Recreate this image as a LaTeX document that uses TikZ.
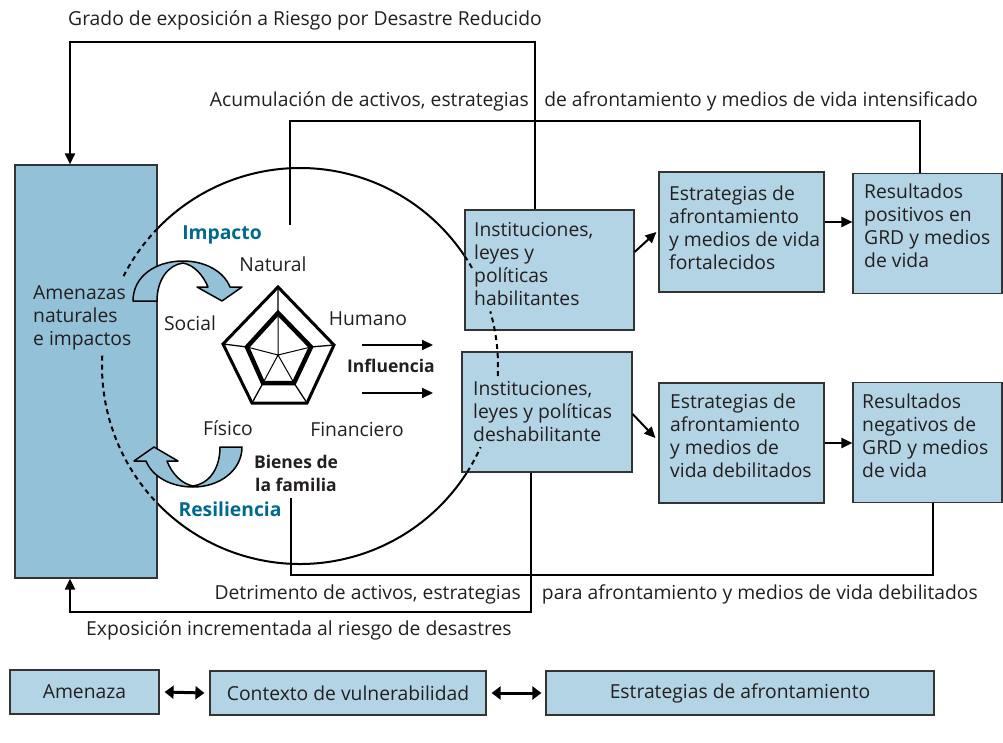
\documentclass[tikz,border=0pt]{standalone}
\usepackage{fontspec}
\setmainfont{Open Sans}
\usetikzlibrary{arrows.meta,calc}
\definecolor{boxc}{HTML}{B3D4E4}
\definecolor{darkbox}{HTML}{93C1D8}
\definecolor{txt}{HTML}{231F20}
\definecolor{blu}{HTML}{00698F}
\begin{document}
\begin{tikzpicture}[x=1pt,y=-1pt,
  font=\fontsize{19.3}{23}\selectfont, text=txt,
  boxn/.style={draw=black!80, line width=1.2pt, fill=boxc, inner sep=0pt, minimum height=120pt},
  boxt/.style={inner sep=0pt, align=left, anchor=north west},
  conn/.style={line width=2pt, draw=black},
  arr/.style={conn, -{Triangle[length=11pt,width=10pt]}},
  dbl/.style={line width=3pt, draw=black, {Triangle[length=9pt,width=13pt]}-{Triangle[length=9pt,width=13pt]}},
  dsh/.style={line width=2pt, draw=black, dash pattern=on 5pt off 4pt},
  lbl/.style={inner sep=0pt},
  blab/.style={inner sep=0pt, font=\fontsize{19.3}{23}\selectfont\bfseries, text=blu},
  kbold/.style={inner sep=0pt, font=\fontsize{17.5}{23}\selectfont\bfseries},
  bottombox/.style={draw=black!80, line width=1.2pt, fill=boxc, minimum height=44pt, inner sep=0pt},
  curlarrow/.style={draw=black, line width=1.5pt, fill=darkbox, line join=round},
]
\useasboundingbox (0,0) rectangle (1003,743);

% circle solid parts
\coordinate (cc) at (300,366);
\draw[conn] (cc) ++(30:198pt) arc[start angle=30, end angle=140, radius=198pt];
\draw[conn] (cc) ++(220:198pt) arc[start angle=220, end angle=330, radius=198pt];

% left box
\node[draw=black!80, line width=1.2pt, fill=darkbox, minimum width=142pt, minimum height=413pt, inner sep=0pt] (amen) at (86,371.5) {};
\node[boxt] (amentxt) at (33,285) {Amenazas\\naturales\\e impactos};

% right boxes
\node[boxn, minimum width=169pt] (instU) at (549.5,270) {};
\node[boxn, minimum width=170pt] (instL) at (547,412) {};
\node[boxn, minimum width=165pt] (estF) at (741.5,232) {};
\node[boxn, minimum width=149pt] (resP) at (927.5,233.5) {};
\node[boxn, minimum width=165pt] (estD) at (741.5,443) {};
\node[boxn, minimum width=149pt] (resN) at (927.5,442.5) {};
\node[boxt] (instUt) at (474,222) {Instituciones,\\leyes y\\políticas\\habilitantes};
\node[boxt] (instLt) at (473,381) {Instituciones,\\leyes y políticas\\deshabilitante};
\node[boxt] (estFt) at (669,186) {Estrategias de\\afrontamiento\\y medios de vida\\fortalecidos};
\node[boxt] (resPt) at (864,184) {Resultados\\positivos en\\GRD y medios\\de vida};
\node[boxt] (estDt) at (670,394) {Estrategias de\\afrontamiento\\y medios de\\vida debilitados};
\node[boxt] (resNt) at (862,394) {Resultados\\negativos de\\GRD y medios\\de vida};

% dashed parts of circle
\draw[dsh] (cc) ++(136:198pt) arc[start angle=136, end angle=153, radius=198pt];
\draw[dsh] (cc) ++(177:198pt) arc[start angle=177, end angle=224, radius=198pt];
\draw[dsh] (cc) ++(29.7:198pt) arc[start angle=29.7, end angle=33.7, radius=198pt];
\draw[dsh] (cc) ++(-2.9:198pt) arc[start angle=-2.9, end angle=16, radius=198pt];
\draw[dsh] (cc) ++(-32.4:198pt) arc[start angle=-32.4, end angle=-24.2, radius=198pt];

% pentagon of assets
\draw[line width=3pt, line join=miter] (278,287) -- (334,345) -- (307,403) -- (252,403) -- (223,344) -- cycle;
\draw[line width=1.3pt] (278,287) -- (278,313) (334,345) -- (311,347) (307,403) -- (294,383) (252,403) -- (263,383) (223,344) -- (247,347);
\draw[line width=1pt] (278,355) -- (278,313) (278,355) -- (311,347) (278,355) -- (294,383) (278,355) -- (263,383) (278,355) -- (247,347);
\draw[line width=4.5pt, line join=miter] (278,313) -- (311,347) -- (294,383) -- (263,383) -- (247,347) -- cycle;

% curved arrows
\path[curlarrow] (133,301) .. controls (133,276) and (156,261) .. (183,261)
  .. controls (206,261) and (224,272) .. (230,287) -- (242,287) -- (222,301) -- (197,287) -- (208,287)
  .. controls (203,275) and (194,265) .. (183,263)
  .. controls (168,265) and (157,280) .. (157,301) -- cycle;
\path[curlarrow] (220,447) -- (242,447) .. controls (242,470) and (220,487) .. (193,487)
  .. controls (170,487) and (152,476) .. (146,461) -- (134,461) -- (154,447) -- (178,461) -- (167,461)
  .. controls (172,474) and (182,484) .. (193,486)
  .. controls (208,484) and (220,470) .. (220,447) -- cycle;

% labels inside circle
\node[blab] (impacto) at (222,235) {Impacto};
\node[lbl] (natural) at (273,264) {Natural};
\node[lbl] (social) at (190,323) {Social};
\node[lbl] (humano) at (368,319) {Humano};
\node[lbl] (fisico) at (228,428) {Físico};
\node[lbl] (financiero) at (357,430) {Financiero};
\node[kbold, align=center] (bienes) at (296,473) {Bienes de\\la familia};
\node[blab] (resil) at (230,509) {Resiliencia};
\node[kbold] (influ) at (391,366) {Influencia};
\coordinate (iu1) at (362,345); \coordinate (iu2) at (433,345);
\coordinate (il1) at (362,393); \coordinate (il2) at (433,393);
\draw[arr] (iu1) -- (iu2);
\draw[arr] (il1) -- (il2);

% arrows among right boxes
\draw[arr] ([yshift=18pt]instU.east) -- ([xshift=-2pt]estF.west);
\draw[arr] ([yshift=-2pt]instL.east) -- ([xshift=-3pt,yshift=5pt]estD.west);
\draw[arr] ([yshift=10pt]estF.east) -- ([yshift=10pt]estF.east -| resP.west);
\draw[arr] (estD.east) -- (estD.east -| resN.west);

% feedback loops
\coordinate (g1) at (535,42); \coordinate (g2) at (70,42);
\draw[arr] (instU.north -| g1) -- (g1) -- (g2) -- (g2 |- amen.north);
\coordinate (a0) at (290,225); \coordinate (a1) at (290,121); \coordinate (a2) at (920,121);
\draw[conn] (a0) -- (a1) -- (a2) -- (a2 |- resP.north);
\coordinate (d1) at (531,612); \coordinate (d2) at (70,612);
\draw[arr] (instL.south -| d1) -- (d1) -- (d2) -- (d2 |- amen.south);
\coordinate (r0) at (291,498); \coordinate (r1) at (291,575); \coordinate (r2) at (933,575);
\draw[conn] (r0) -- (r1) -- (r2) -- (r2 |- resN.south);

% loop texts
\node[lbl, anchor=west] (grado) at (68,20) {Grado de exposición a Riesgo por Desastre Reducido};
\node[lbl, anchor=east] (acum1) at (529,101) {Acumulación de activos, estrategias};
\node[lbl, anchor=east] (acum2) at (978,101) {de afrontamiento y medios de vida intensificado};
\node[lbl, anchor=east] (detr1) at (521,594) {Detrimento de activos, estrategias};
\node[lbl, anchor=east] (detr2) at (978,594) {para afrontamiento y medios de vida debilitados};
\node[lbl, anchor=west] (expo) at (86,630) {Exposición incrementada al riesgo de desastres};

% legend row
\node[bottombox, minimum width=149pt] (amz) at (84.5,692) {Amenaza};
\node[bottombox, minimum width=276pt] (ctx) at (348,693) {Contexto de vulnerabilidad};
\node[bottombox, minimum width=388pt] (estr) at (740,693) {Estrategias de afrontamiento};
\draw[dbl] ([xshift=5pt]amz.east) -- ([xshift=-5pt]ctx.west);
\draw[dbl] ([xshift=5pt]ctx.east) -- ([xshift=-4pt]estr.west);
\end{tikzpicture}
\end{document}
